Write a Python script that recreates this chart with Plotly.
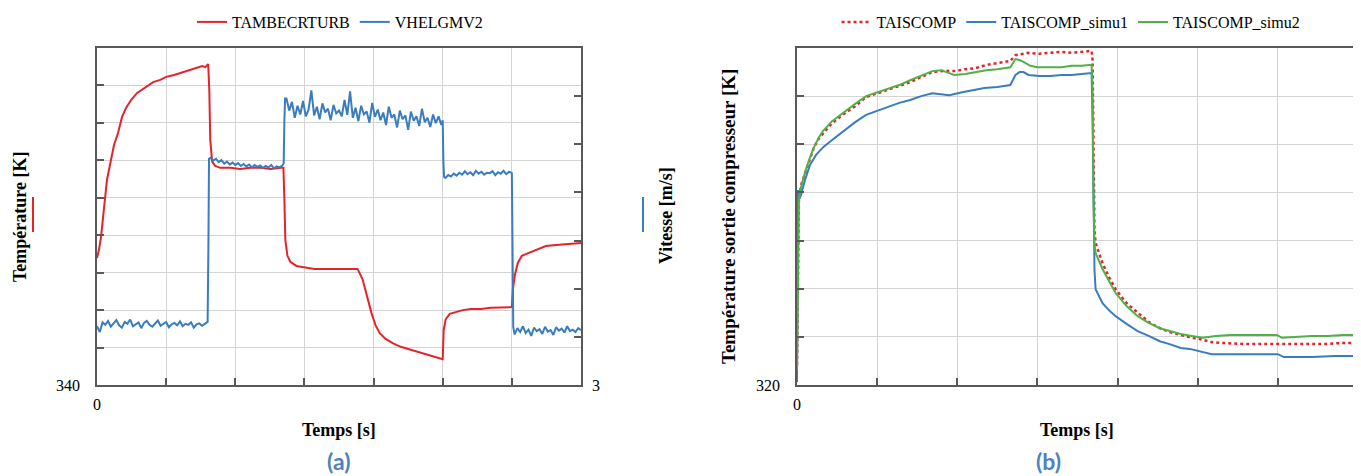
import plotly.graph_objects as go

W, H = 1361, 476
OFF = 8  # browser body margin
FW, FH = W - OFF, H - OFF

def px(x):
    return (x - OFF) / FW

def py(y):
    return 1 - (y - OFF) / FH

# ---------------- Panel (a) data ----------------
red_t = [0,14,29,51,72,101,123,152,181,210,246,290,341,406,457,500,558,623,674,717,
         761,783,804,812,819,833,855,891,964,1036,1109,1181,1254,1326,1348,1355,1362,1377,1398,1442,
         1507,1572,1688,1797,1884,1920,1949,1985,2014,2043,2087,2138,2196,2297,2377,2457,2500,2507,2522,2551,
         2594,2645,2703,2775,2848,2920,3000,3007,3022,3043,3072,3123,3174,3246,3319,3405,3500]
red_v = [373.9,376.1,379.5,388.1,394.8,400.1,404.1,407.3,411.6,414.0,416.1,418.0,419.3,420.9,421.5,422.3,422.8,423.6,424.1,424.7,
         425.2,424.9,425.7,418.8,405.4,399.6,398.5,398.0,398.0,397.7,398.0,398.0,397.7,398.0,398.0,389.4,378.7,374.5,372.9,371.8,
         371.3,371.0,371.0,371.0,371.0,368.3,364.0,359.2,356.0,353.9,352.3,351.2,350.2,349.1,348.3,347.5,346.9,354.7,357.6,359.0,
         359.5,360.0,360.3,360.3,360.6,360.6,360.8,365.4,369.4,372.6,374.5,375.3,376.1,377.1,377.4,377.7,377.9]

blue_t = [0,20,40,60,80,100,120,140,160,180,200,220,240,260,280,300,320,340,360,380,400,420,440,460,480,
          500,520,540,560,580,600,620,640,660,680,700,720,740,760,780,800,
          806,810,
          820,840,860,880,900,920,940,960,980,1000,1020,1040,1060,1080,1100,1120,1140,1160,1180,1200,
          1220,1240,1260,1280,1300,1320,1340,
          1350,1355,1360,
          1370,1390,1410,1430,1450,1470,1490,1510,1530,1550,1570,1590,1610,1630,1650,1670,1690,1710,1730,
          1750,1770,1790,1810,1830,1850,1870,1890,1910,1930,1950,1970,1990,2010,2030,2050,2070,2090,2110,
          2130,2150,2170,2190,2210,2230,2250,2270,2290,2310,2330,2350,2370,2390,2410,2430,2450,2470,2490,
          2500,2505,2510,
          2520,2540,2560,2580,2600,2620,2640,2660,2680,2700,2720,2740,2760,2780,2800,2820,2840,2860,2880,
          2900,2920,2940,2960,2980,
          3000,3005,3010,
          3020,3040,3060,3080,3100,3120,3140,3160,3180,3200,3220,3240,3260,3280,3300,3320,3340,3360,3380,
          3400,3420,3440,3460,3480,3500]
blue_v = [4.22,4.10,4.30,4.25,4.33,4.21,4.28,4.35,4.24,4.19,4.31,4.27,4.36,4.22,4.26,4.30,4.18,4.29,4.33,4.25,
          4.21,4.28,4.34,4.23,4.27,4.31,4.20,4.26,4.29,4.24,4.32,4.22,4.27,4.25,4.30,4.19,4.26,4.28,4.23,4.27,4.31,
          6.0,7.70,
          7.72,7.66,7.70,7.63,7.67,7.60,7.64,7.58,7.62,7.57,7.61,7.55,7.59,7.54,7.58,7.52,7.57,7.53,7.56,7.51,
          7.55,7.52,7.57,7.50,7.54,7.52,7.56,
          7.6,8.5,8.95,
          8.95,8.70,8.88,8.55,8.80,8.62,8.90,8.58,8.72,9.12,8.60,8.78,8.52,8.85,8.66,8.74,8.50,8.82,8.64,
          8.70,8.58,8.92,8.61,9.10,8.55,8.76,8.48,8.80,8.62,8.68,8.45,8.86,8.57,8.72,8.50,8.66,8.40,8.78,
          8.55,8.62,8.35,8.70,8.52,8.60,8.30,8.68,8.49,8.58,8.38,8.74,8.46,8.55,8.36,8.62,8.44,8.58,8.40,
          8.5,7.6,7.32,
          7.30,7.36,7.33,7.39,7.35,7.41,7.37,7.44,7.38,7.42,7.36,7.45,7.39,7.43,7.37,7.41,7.40,7.44,7.36,
          7.42,7.39,7.45,7.38,7.43,
          7.4,5.5,4.20,
          4.05,4.18,4.10,4.22,4.08,4.15,4.02,4.19,4.12,4.16,4.06,4.21,4.11,4.14,4.04,4.20,4.13,4.17,4.09,
          4.22,4.12,4.15,4.10,4.18,4.14]

# ---------------- Panel (b) data ----------------
ref_t = [0,6,12,25,50,75,106,138,163,219,300,363,431,500,569,638,706,775,844,913,
         981,1050,1113,1181,1250,1300,1331,1363,1400,1444,1513,1581,1650,1713,1775,1838,1844,1850,1856,1863,
         1888,1906,1950,1988,2056,2125,2194,2263,2325,2394,2463,2506,2588,2669,2806,2950,3075,3200,3294,3388,3500]
ref_v = [324.2,337.7,358.4,361.5,364.0,366.7,369.4,371.3,372.3,374.4,376.5,377.9,379.8,380.6,381.3,382.1,382.9,384.0,385.0,385.2,
         385.2,385.6,385.8,386.5,386.9,387.1,387.3,388.5,388.8,389.0,388.8,389.0,389.2,389.0,389.2,389.4,387.5,368.8,352.2,349.5,
         347.0,345.3,342.2,339.9,337.0,335.0,333.1,331.8,331.0,330.4,329.8,329.6,328.9,328.7,328.5,328.5,328.5,328.5,328.5,328.7,328.7]

sim1_t = [0,6,12,25,50,81,119,163,219,300,363,431,500,569,638,706,775,844,900,950,
          1031,1100,1169,1250,1331,1363,1388,1413,1444,1513,1581,1650,1713,1775,1838,1844,1850,1856,1863,1888,
          1906,1950,1988,2056,2125,2194,2263,2325,2394,2450,2506,2588,2700,2825,3000,3038,3138,3213,3356,3500]
sim1_v = [320.6,360.5,358.4,359.5,362.6,365.7,367.8,369.4,370.9,373.0,374.6,376.1,376.9,377.7,378.6,379.2,380.0,380.6,380.4,380.2,
          380.8,381.3,381.7,381.9,382.3,384.4,385.0,385.0,384.4,384.2,384.2,384.4,384.4,384.6,384.8,375.0,358.4,343.9,339.9,338.3,
          337.0,335.4,334.3,332.7,331.2,330.2,329.1,328.5,327.7,327.5,327.1,326.4,326.4,326.4,326.4,325.8,325.8,325.8,326.0,326.0]

sim2_t = [0,6,12,25,50,75,106,138,163,219,300,363,431,500,569,638,706,775,844,900,
          950,981,1050,1113,1181,1250,1300,1331,1363,1388,1413,1456,1500,1581,1650,1713,1775,1838,1844,1850,
          1856,1863,1888,1906,1950,1988,2056,2125,2194,2263,2325,2394,2463,2531,2613,2700,2806,2900,2994,3025,
          3119,3213,3313,3406,3500]
sim2_v = [323.1,341.8,358.4,361.1,364.2,366.7,369.4,371.5,372.8,374.8,376.9,378.4,380.0,380.8,381.5,382.3,383.3,384.2,385.2,385.4,
          384.8,384.4,384.6,385.0,385.4,385.6,385.8,386.0,387.7,387.5,387.1,386.3,386.0,386.0,386.0,386.3,386.3,386.5,381.3,358.4,
          349.1,347.4,345.5,344.1,341.4,339.1,336.4,334.3,332.9,331.8,331.2,330.6,330.2,329.8,330.2,330.4,330.4,330.4,330.4,329.8,
          330.0,330.2,330.2,330.4,330.4]

# ---------------- ticks ----------------
x_ticks = [0, 500, 1000, 1500, 2000, 2500, 3000, 3500]
x_ticktext = ["0", "", "", "", "", "", "", ""]
ya_ticks = [340, 350, 360, 370, 380, 390, 400, 410, 420, 430]
ya_ticktext = ["340", "", "", "", "", "", "", "", "", ""]
va_ticks = [3, 4, 5, 6, 7, 8, 9, 10]
va_ticktext = ["3", "", "", "", "", "", "", ""]
yb_ticks = [320, 330, 340, 350, 360, 370, 380, 390]
yb_ticktext = ["320", "", "", "", "", "", "", ""]

RED = "#e4232b"
BLUE = "#3a7dbf"
GREEN = "#52b048"
AXC = "#595959"
GRID = "#d4d4d4"
SERIF = "Liberation Serif"

fig = go.Figure()
fig.add_trace(go.Scatter(x=red_t, y=red_v, mode="lines", name="TAMBECRTURB",
                         line=dict(color=RED, width=2), xaxis="x", yaxis="y", legend="legend"))
fig.add_trace(go.Scatter(x=blue_t, y=blue_v, mode="lines", name="VHELGMV2",
                         line=dict(color=BLUE, width=2), xaxis="x", yaxis="y2", legend="legend"))
fig.add_trace(go.Scatter(x=ref_t, y=ref_v, mode="lines", name="TAISCOMP",
                         line=dict(color=RED, width=2.5, dash="dot"), xaxis="x2", yaxis="y3", legend="legend2"))
fig.add_trace(go.Scatter(x=sim1_t, y=sim1_v, mode="lines", name="TAISCOMP_simu1",
                         line=dict(color=BLUE, width=2), xaxis="x2", yaxis="y3", legend="legend2"))
fig.add_trace(go.Scatter(x=sim2_t, y=sim2_v, mode="lines", name="TAISCOMP_simu2",
                         line=dict(color=GREEN, width=2), xaxis="x2", yaxis="y3", legend="legend2"))

ydom = [py(385), py(48)]
tickfont = dict(family=SERIF, size=16, color="black")

def xax(domain, anchor):
    return dict(domain=domain, anchor=anchor, range=[0, 3500], tickvals=x_ticks, ticktext=x_ticktext,
                ticks="inside", ticklen=7, tickwidth=1.5, tickcolor=AXC, showgrid=True, gridcolor=GRID,
                gridwidth=1.3, showline=True, linecolor=AXC, linewidth=1.6, mirror=True, zeroline=False,
                tickfont=tickfont, ticklabelstandoff=4, fixedrange=True, automargin=False)

def yax(domain, anchor, rng, tv, tt, **kw):
    d = dict(domain=domain, anchor=anchor, range=rng, tickvals=tv, ticktext=tt,
             ticks="inside", ticklen=7, tickwidth=1.5, tickcolor=AXC, showgrid=True, gridcolor=GRID,
             gridwidth=1.3, showline=True, linecolor=AXC, linewidth=1.6, mirror=True, zeroline=False,
             tickfont=tickfont, ticklabelstandoff=12, fixedrange=True, automargin=False)
    d.update(kw)
    return d

fig.update_layout(
    width=FW, height=FH, autosize=False,
    margin=dict(l=0, r=0, t=0, b=0, autoexpand=False),
    paper_bgcolor="white", plot_bgcolor="white",
    xaxis=xax([px(97), px(581)], "y"),
    yaxis=yax(ydom, "x", [340, 430], ya_ticks, ya_ticktext),
    yaxis2=dict(overlaying="y", side="right", anchor="x", range=[3, 10], tickvals=va_ticks,
                ticktext=va_ticktext, ticks="inside", ticklen=7, tickwidth=1.5, tickcolor=AXC,
                showgrid=False, showline=True, linecolor=AXC, linewidth=1.6, zeroline=False,
                tickfont=tickfont, ticklabelstandoff=6, fixedrange=True, automargin=False),
    xaxis2=xax([px(797), px(1358)], "y3"),
    yaxis3=yax(ydom, "x2", [320, 390], yb_ticks, yb_ticktext),
    legend=dict(orientation="h", x=px(340), xanchor="center", y=py(22), yanchor="middle",
                font=dict(family=SERIF, size=16, color="black"), itemwidth=30,
                bgcolor="rgba(0,0,0,0)", tracegroupgap=0),
    legend2=dict(orientation="h", x=px(1071), xanchor="center", y=py(22), yanchor="middle",
                 font=dict(family=SERIF, size=16, color="black"), itemwidth=30,
                 bgcolor="rgba(0,0,0,0)", tracegroupgap=0),
    showlegend=True,
)

title_font = dict(family=SERIF, size=18, color="black")
ann = [
    dict(text="<b>Température [K]</b>", x=px(20), y=py(217), textangle=-90, font=title_font),
    dict(text="<b>Vitesse [m/s]</b>", x=px(666), y=py(216), textangle=-90, font=title_font),
    dict(text="<b>Température sortie compresseur [K]</b>", x=px(728), y=py(216), textangle=-90,
         font=dict(family=SERIF, size=19, color="black")),
    dict(text="<b>Temps [s]</b>", x=px(339), y=py(430), font=title_font),
    dict(text="<b>Temps [s]</b>", x=px(1077), y=py(430), font=title_font),
    dict(text="<b>(a)</b>", x=px(338), y=py(461), font=dict(family="Lato", size=23, color="#4f81bd")),
    dict(text="<b>(b)</b>", x=px(1048), y=py(461), font=dict(family="Lato", size=23, color="#4f81bd")),
]
for a in ann:
    a.update(xref="paper", yref="paper", showarrow=False, xanchor="center", yanchor="middle")
fig.update_layout(annotations=ann)

fig.update_layout(shapes=[
    dict(type="line", xref="paper", yref="paper", x0=px(33), x1=px(33), y0=py(232), y1=py(197),
         line=dict(color=RED, width=2)),
    dict(type="line", xref="paper", yref="paper", x0=px(643), x1=px(643), y0=py(232), y1=py(197),
         line=dict(color=BLUE, width=2)),
])

fig.write_html("out.html")
